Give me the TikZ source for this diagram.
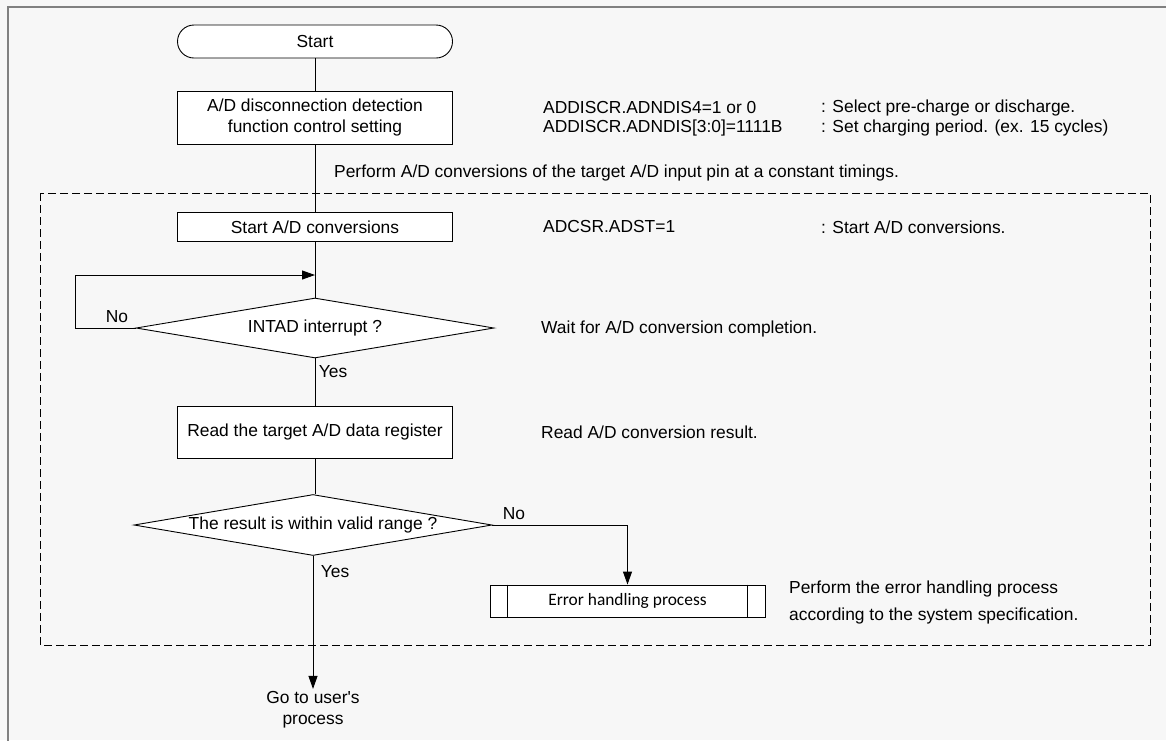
\documentclass[tikz,border=0pt]{standalone}
\usepackage{fontspec}
\setmainfont{Liberation Sans}
\newfontfamily\calibfont{Carlito}
\usetikzlibrary{shapes.geometric,arrows.meta}
\definecolor{pagebg}{HTML}{F7F7F7}
\definecolor{framegray}{HTML}{808080}
\begin{document}
\begin{tikzpicture}[x=1pt,y=-1pt,
  font=\fontsize{17.4}{21}\selectfont,
  every node/.style={inner sep=2pt},
  stepbox/.style={draw,fill=white,line width=0.9pt,minimum width=275pt,align=center,inner sep=0pt},
  terminal/.style={stepbox,rounded corners=16.5pt,minimum height=33pt},
  decision/.style={diamond,draw,fill=white,line width=0.9pt,inner sep=0pt,aspect=6},
  predef/.style={stepbox,minimum width=275pt,minimum height=32pt,font=\calibfont\fontsize{17.4}{20}\selectfont},
  note/.style={anchor=west,inner sep=0pt},
  link/.style={line width=0.9pt},
  flow/.style={link,-{Triangle[length=13pt,width=9pt]}},
  group/.style={line width=0.9pt,dash pattern=on 8pt off 4pt}]
\useasboundingbox (0,0) rectangle (1166,740);
\clip (0,0) rectangle (1166,740);
\fill[pagebg] (0,0) rectangle (1166,740);
\draw[framegray,line width=1.6pt] (8,7) rectangle (1220,800);

% periodic conversion group
\draw[group] (40,193) rectangle (1150,645);

% flow steps
\node[terminal] (start) at (315,41.5) {Start};
\node[stepbox,minimum height=53pt] (setup) at (315,117.5) {A/D disconnection detection\\function control setting};
\node[stepbox,minimum height=29pt] (adst) at (315,227) {Start A/D conversions};
\node[decision,minimum width=358pt,minimum height=60pt] (intad) at (315,328) {INTAD interrupt ?};
\node[stepbox,minimum height=52pt] (read) at (315,432) {Read the target A/D data register};
\node[decision,minimum width=358pt,minimum height=61pt] (valid) at (313,525) {The result is within valid range ?};
\node[predef] (err) at (627.5,601) {Error handling process};
\draw[line width=0.9pt] ([xshift=18pt]err.north west) -- ([xshift=18pt]err.south west);
\draw[line width=0.9pt] ([xshift=-18pt]err.north east) -- ([xshift=-18pt]err.south east);
\node[align=center] (user) at (313,709.5) {Go to user\textquotesingle s\\process};

% connectors
\coordinate (loopcorner) at (75,328);
\coordinate (merge) at (315,275);
\draw[link] (start) -- (setup);
\draw[link] (setup) -- (adst);
\draw[link] (adst) -- (intad);
\draw[flow] (intad.west) -- (loopcorner) |- (merge);
\draw[link] (intad) -- (read);
\draw[link] (read.south) -- (read.south |- valid.north);
\draw[flow] (valid.east) -| (err.north);
\draw[flow] (valid.south) -- (valid.south |- user.north);

% branch labels
\node (noloop) at (117,317) {No};
\node (yesint) at (333,372) {Yes};
\node (noval) at (514,514) {No};
\node (yesval) at (335,572) {Yes};

% notes
\node[note] (grouptxt) at (334,173) {Perform A/D conversions of the target A/D input pin at a constant timings.};
\node[note] (reg1) at (543,108) {ADDISCR.ADNDIS4=1 or 0};
\node[note] (reg1d) at (821,108) {: Select pre-charge or discharge.};
\node[note] (reg2) at (543,128) {ADDISCR.ADNDIS[3:0]=1111B};
\node[note] (reg2d) at (821,128) {: Set charging period. (ex. 15 cycles)};
\node[note] (reg3) at (543,227) {ADCSR.ADST=1};
\node[note] (reg3d) at (821,227) {: Start A/D conversions.};
\node[note] (waittxt) at (541,329) {Wait for A/D conversion completion.};
\node[note] (readtxt) at (541,432) {Read A/D conversion result.};
\node[note,align=left] (errtxt) at (789,602.5) {Perform the error handling process\\[6pt]according to the system specification.};
\end{tikzpicture}
\end{document}
